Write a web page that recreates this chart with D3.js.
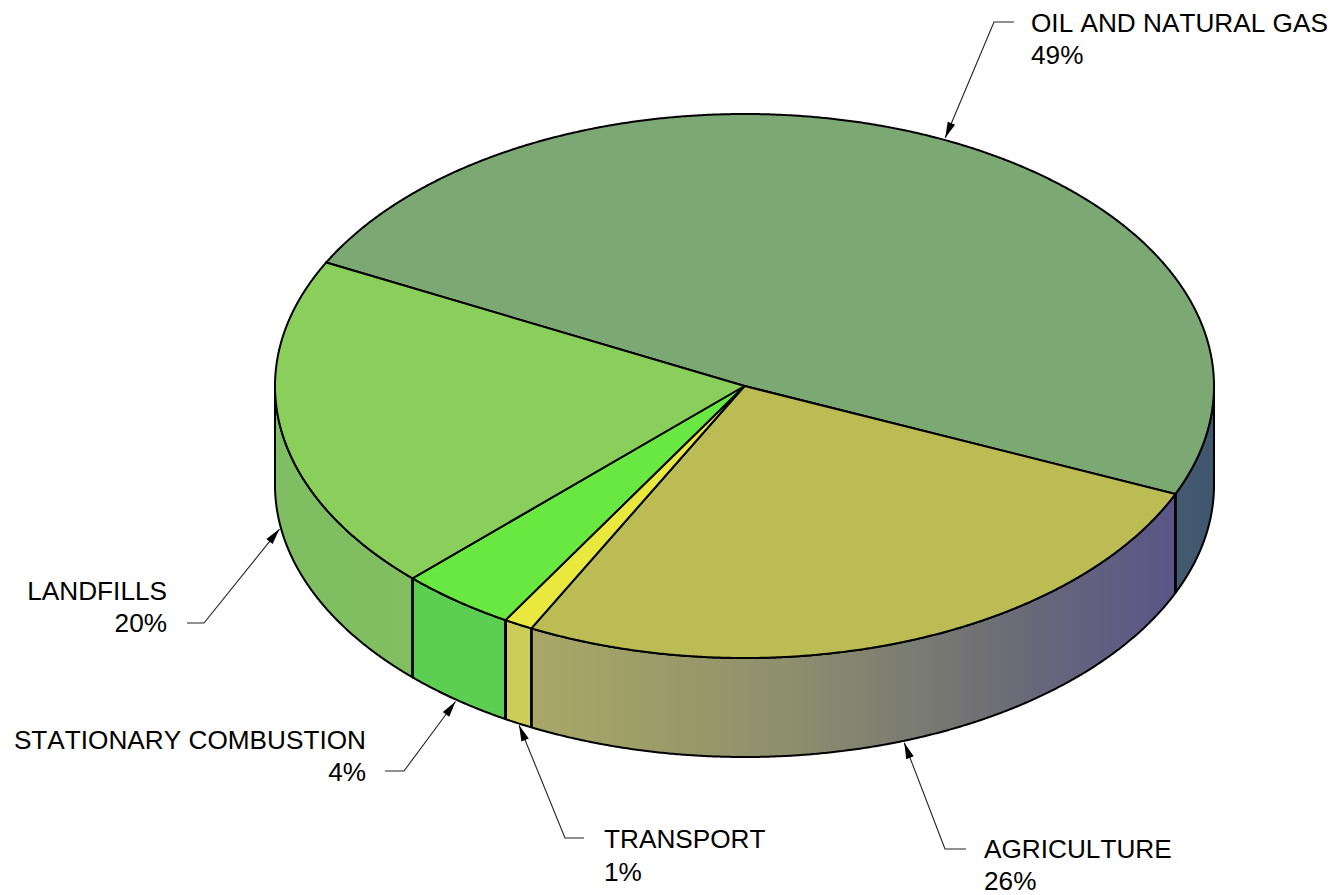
<!DOCTYPE html>
<html><head><meta charset="utf-8">
<script src="https://cdnjs.cloudflare.com/ajax/libs/d3/7.8.5/d3.min.js"></script>
<style>html,body{margin:0;padding:0;background:#fff}svg{display:block}text{font-family:"Liberation Sans",Arial,sans-serif;font-size:26.2px;font-kerning:none;fill:#000}</style>
</head><body><svg id="c" width="1337" height="895"></svg>
<script>
const categories=["OIL AND NATURAL GAS","AGRICULTURE","TRANSPORT","STATIONARY COMBUSTION","LANDFILLS"];
const shares=[49,26,1,4,20];
const topColors=["#7ba873","#bcbc55","#e9e83f","#6ae842","#8acf5c"];
const sideStops=[
 [[0,"#455a70"],[1,"#3f566f"]],
 [[0,"#a9a868"],[.2,"#9c9c68"],[.4,"#8d8f6e"],[.6,"#7a7b72"],[.8,"#67667a"],[1,"#5a5588"]],
 [[0,"#cccd58"],[1,"#cccd58"]],
 [[0,"#5ccf52"],[1,"#5ccf52"]],
 [[0,"#7fbe62"],[1,"#82be62"]]
];
const leaders=[
 {elbow:[994,22],stub:1014,anchor:"start",tx:1031,y:[32,64],onTop:true},
 {elbow:[945,849],stub:966,anchor:"start",tx:984,y:[858,890]},
 {elbow:[565,838],stub:584,anchor:"start",tx:604,y:[848,881]},
 {elbow:[404,771],stub:385,anchor:"end",tx:366,y:[749,781]},
 {elbow:[204,623],stub:187,anchor:"end",tx:167,y:[600,632]}
];
const svg=d3.select("#c");
const x=d3.scaleLinear([-1,1],[275,1214]);
const y=d3.scaleLinear([-1,1],[114,658]);
const depth=99, rad=Math.PI/180;
const start=297*rad;
const arcs=d3.pie().sort(null).startAngle(start).endAngle(start+2*Math.PI)(shares);
const px=(a,d=0)=>[x(Math.sin(a)),y(-Math.cos(a))+d];
const line=d3.line();
const arcPts=(a0,a1,d=0)=>{const n=Math.max(2,Math.ceil(Math.abs(a1-a0)/(0.25*rad)));
 return d3.range(n+1).map(i=>px(a0+(a1-a0)*i/n,d));};
const defs=svg.append("defs");
const vis0=450*rad, vis1=630*rad;
arcs.forEach((s,i)=>{
 const a0=Math.max(s.startAngle,vis0), a1=Math.min(s.endAngle,vis1);
 if(a1<=a0) return;
 const pts0=arcPts(a0,a1), xs=pts0.map(p=>p[0]);
 const g=defs.append("linearGradient").attr("id","w"+i).attr("gradientUnits","userSpaceOnUse")
  .attr("x1",d3.min(xs)).attr("x2",d3.max(xs)).attr("y1",0).attr("y2",0);
 sideStops[i].forEach(st=>g.append("stop").attr("offset",st[0]).attr("stop-color",st[1]));
 const poly=pts0.concat(arcPts(a1,a0,depth));
 svg.append("path").attr("d",line(poly)+"Z").attr("fill",`url(#w${i})`).attr("stroke","#000").attr("stroke-width",2).attr("stroke-linejoin","round");
});
arcs.forEach((s,i)=>{
 const a=s.startAngle;
 [a,a+2*Math.PI].forEach(v=>{ if(v>vis0&&v<vis1){const p=px(v);
  svg.append("line").attr("x1",p[0]).attr("x2",p[0]).attr("y1",p[1]).attr("y2",p[1]+depth).attr("stroke","#000").attr("stroke-width",i==3?3:2.5);}});
});
const centre=[x(0),y(0)];
arcs.forEach((s,i)=>{
 const poly=[centre].concat(arcPts(s.startAngle,s.endAngle));
 svg.append("path").attr("d",line(poly)+"Z").attr("fill",topColors[i]).attr("stroke","#000").attr("stroke-width",2).attr("stroke-linejoin","miter").attr("stroke-miterlimit",2);
});
arcs.forEach((s,i)=>{
 const L=leaders[i], m=(s.startAngle+s.endAngle)/2;
 const tip=px(m,L.onTop?0:depth);
 const dx=L.elbow[0]-tip[0], dy=L.elbow[1]-tip[1], len=Math.hypot(dx,dy), ux=dx/len, uy=dy/len;
 const t=[tip[0]+ux*2,tip[1]+uy*2];
 svg.append("path").attr("d",line([[L.stub,L.elbow[1]],L.elbow,t])).attr("fill","none").attr("stroke","#222").attr("stroke-width",1.1);
 const al=16,aw=4;
 svg.append("path").attr("d",line([t,[t[0]+ux*al-uy*aw,t[1]+uy*al+ux*aw],[t[0]+ux*al+uy*aw,t[1]+uy*al-ux*aw]])+"Z").attr("fill","#000");
 svg.append("text").attr("x",L.tx).attr("y",L.y[0]).attr("text-anchor",L.anchor).text(categories[i]);
 svg.append("text").attr("x",L.tx).attr("y",L.y[1]).attr("text-anchor",L.anchor).text(d3.format("d")(shares[i])+"%");
});
</script></body></html>
